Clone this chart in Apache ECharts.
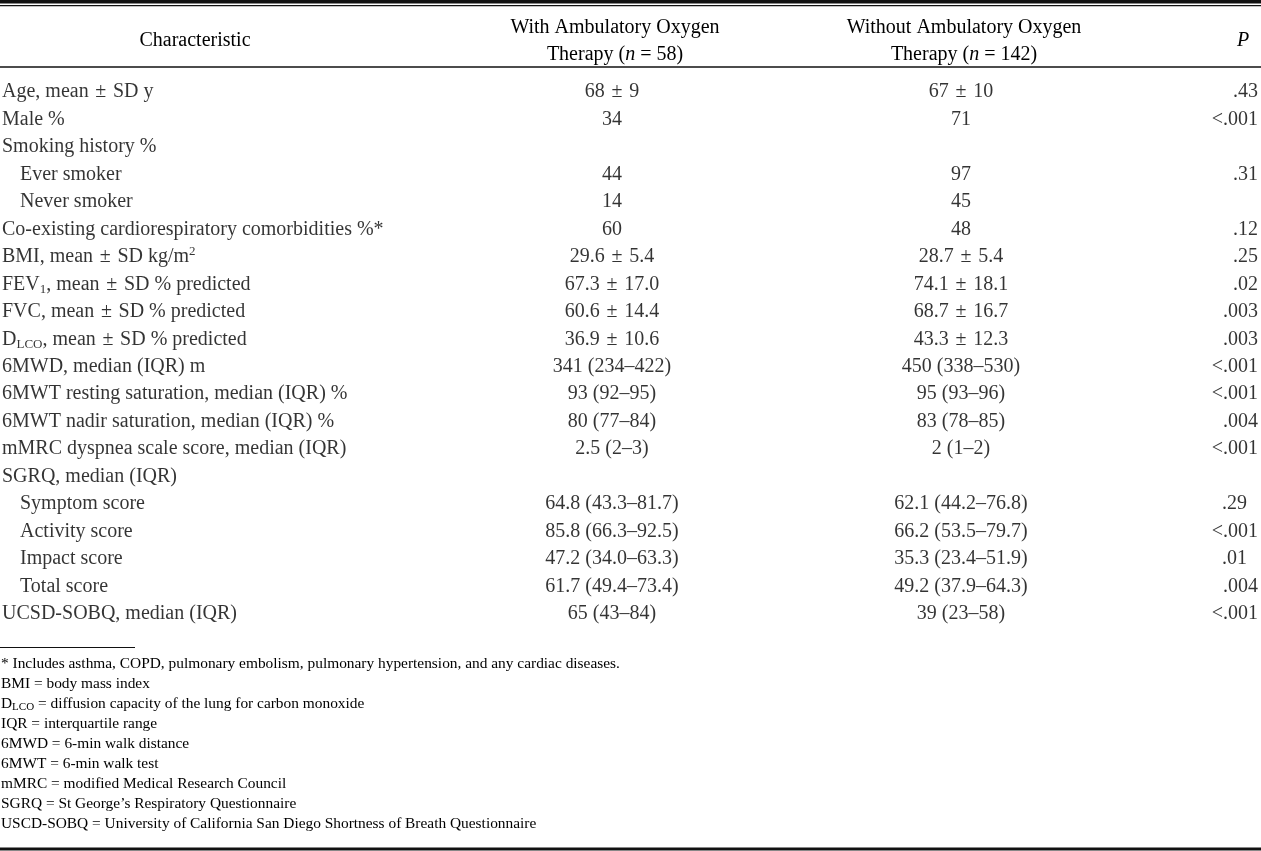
<!DOCTYPE html>
<html>
<head>
<meta charset="utf-8">
<script src="https://cdn.jsdelivr.net/npm/echarts@6/dist/echarts.min.js"></script>
<style>
html, body { margin: 0; padding: 0; background: #fff; }
#main { width: 1261px; height: 851px; }
</style>
</head>
<body>
<div id="main"></div>
<script>
// table content
var characteristics = [
  'Age, mean ± SD y',
  'Male %',
  'Smoking history %',
  'Ever smoker',
  'Never smoker',
  'Co-existing cardiorespiratory comorbidities %*',
  'BMI, mean ± SD kg/m{sup|2}',
  'FEV{sub|1}, mean ± SD % predicted',
  'FVC, mean ± SD % predicted',
  'D{sub|LCO}, mean ± SD % predicted',
  '6MWD, median (IQR) m',
  '6MWT resting saturation, median (IQR) %',
  '6MWT nadir saturation, median (IQR) %',
  'mMRC dyspnea scale score, median (IQR)',
  'SGRQ, median (IQR)',
  'Symptom score',
  'Activity score',
  'Impact score',
  'Total score',
  'UCSD-SOBQ, median (IQR)'
];
var subRows = ['Ever smoker', 'Never smoker', 'Symptom score', 'Activity score', 'Impact score', 'Total score'];
var withOxygen = ['68 ± 9', '34', '', '44', '14', '60', '29.6 ± 5.4', '67.3 ± 17.0', '60.6 ± 14.4', '36.9 ± 10.6',
  '341 (234–422)', '93 (92–95)', '80 (77–84)', '2.5 (2–3)', '', '64.8 (43.3–81.7)', '85.8 (66.3–92.5)',
  '47.2 (34.0–63.3)', '61.7 (49.4–73.4)', '65 (43–84)'];
var withoutOxygen = ['67 ± 10', '71', '', '97', '45', '48', '28.7 ± 5.4', '74.1 ± 18.1', '68.7 ± 16.7', '43.3 ± 12.3',
  '450 (338–530)', '95 (93–96)', '83 (78–85)', '2 (1–2)', '', '62.1 (44.2–76.8)', '66.2 (53.5–79.7)',
  '35.3 (23.4–51.9)', '49.2 (37.9–64.3)', '39 (23–58)'];
var pValues = ['.43', '<.001', '', '.31', '', '.12', '.25', '.02', '.003', '.003', '<.001', '<.001', '.004',
  '<.001', '', '.29', '<.001', '.01', '.004', '<.001'];
// rows whose P value is set flush with the decimal column instead of the right edge
var pLeftRows = ['Symptom score', 'Impact score'];
var headers = ['Characteristic', 'With Ambulatory Oxygen\nTherapy ({it|n} = 58)',
  'Without Ambulatory Oxygen\nTherapy ({it|n} = 142)', '{it|P}'];
var footnotes = [
  '* Includes asthma, COPD, pulmonary embolism, pulmonary hypertension, and any cardiac diseases.',
  'BMI = body mass index',
  'D{sub|LCO} = diffusion capacity of the lung for carbon monoxide',
  'IQR = interquartile range',
  '6MWD = 6-min walk distance',
  '6MWT = 6-min walk test',
  'mMRC = modified Medical Research Council',
  'SGRQ = St George’s Respiratory Questionnaire',
  'USCD-SOBQ = University of California San Diego Shortness of Breath Questionnaire'
];

var FONT = '"Liberation Serif", "Times New Roman", serif';
var INK = '#000';
var colX = [2, 612, 961, 1258];
var headerX = [195, 615, 964, 1243];

// wider spacing round the plus-minus sign, as typeset
function pm(s) { return s.replace(/ ± /g, '\u2004±\u2004'); }

var rich = {
  sub: { fontFamily: FONT, fontSize: 13, lineHeight: 13, verticalAlign: 'bottom', color: INK },
  sup: { fontFamily: FONT, fontSize: 13, lineHeight: 13, verticalAlign: 'top', color: INK },
  it: { fontFamily: FONT, fontSize: 20, fontStyle: 'italic', color: INK }
};

function cellSeries(name, values, makeItem) {
  var data = [];
  values.forEach(function (v, i) {
    if (v !== '') data.push(makeItem(v, i));
  });
  return {
    name: name,
    type: 'scatter',
    symbolSize: 1,
    silent: true,
    itemStyle: { color: 'rgba(0,0,0,0)' },
    label: {
      show: true,
      position: 'inside',
      align: 'center',
      verticalAlign: 'middle',
      fontFamily: FONT,
      fontSize: 20,
      lineHeight: 24,
      color: INK,
      rich: rich,
      formatter: function (p) { return pm(p.data.text); }
    },
    data: data
  };
}

var series = [
  cellSeries('characteristic', characteristics, function (v, i) {
    var sub = subRows.indexOf(v) >= 0;
    return { value: [sub ? colX[0] + 18 : colX[0], i], text: v, label: { align: 'left' } };
  }),
  cellSeries('with', withOxygen, function (v, i) {
    return { value: [colX[1], i], text: v };
  }),
  cellSeries('without', withoutOxygen, function (v, i) {
    return { value: [colX[2], i], text: v };
  }),
  cellSeries('p', pValues, function (v, i) {
    var left = pLeftRows.indexOf(characteristics[i]) >= 0;
    return { value: [colX[3], i], text: v, label: { align: 'right', offset: [left ? -11 : 0, 0] } };
  })
];

var graphics = [
  { type: 'rect', shape: { x: 0, y: 0, width: 1261, height: 3.5 }, style: { fill: '#111' } },
  { type: 'line', shape: { x1: 0, y1: 5.6, x2: 1261, y2: 5.6 }, style: { stroke: '#111', lineWidth: 1.3 } },
  { type: 'line', shape: { x1: 0, y1: 67, x2: 1261, y2: 67 }, style: { stroke: '#111', lineWidth: 1.3 } },
  { type: 'line', shape: { x1: 0, y1: 647.5, x2: 135, y2: 647.5 }, style: { stroke: '#111', lineWidth: 1.2 } },
  { type: 'rect', shape: { x: 0, y: 847.5, width: 1261, height: 3 }, style: { fill: '#111' } }
];

headers.forEach(function (h, k) {
  graphics.push({
    type: 'text', x: headerX[k], y: 41, silent: true,
    style: {
      text: h, fontFamily: FONT, fontSize: 20, lineHeight: 27, fill: INK,
      align: 'center', verticalAlign: 'middle', rich: rich
    }
  });
});

footnotes.forEach(function (f, k) {
  graphics.push({
    type: 'text', x: 1, y: 663.5 + k * 20, silent: true,
    style: {
      text: f, fontFamily: FONT, fontSize: 15.4, lineHeight: 18, fill: INK,
      align: 'left', verticalAlign: 'middle',
      rich: { sub: { fontFamily: FONT, fontSize: 11, lineHeight: 11, verticalAlign: 'bottom', fill: INK } }
    }
  });
});

var chart = echarts.init(document.getElementById('main'));
chart.setOption({
  animation: false,
  backgroundColor: '#fff',
  grid: { left: 0, right: 0, top: 78.3, height: 549.4 },
  xAxis: { type: 'value', min: 0, max: 1261, show: false },
  yAxis: {
    type: 'category', inverse: true, show: false,
    data: characteristics.map(function (c, i) { return String(i); })
  },
  graphic: graphics,
  series: series
});
</script>
</body>
</html>
